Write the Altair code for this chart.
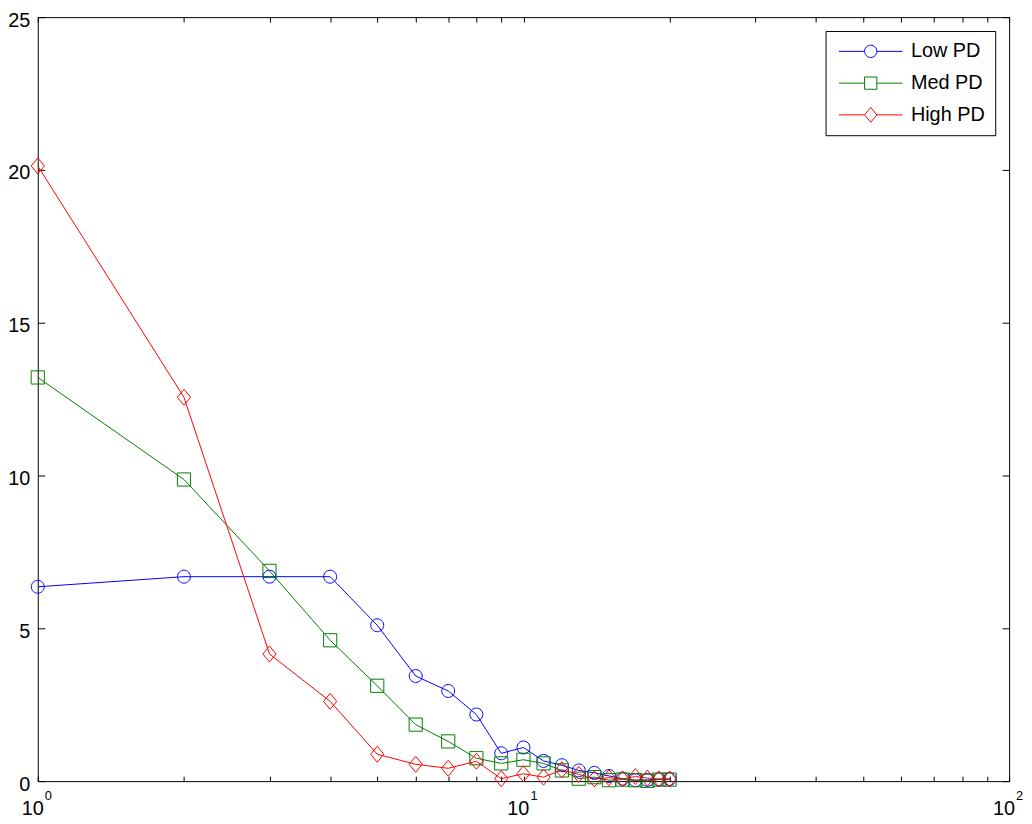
import altair as alt
import pandas as pd

# ---------------- data ----------------
x_vals = list(range(1, 21))
low_pd = [6.36, 6.69, 6.69, 6.69, 5.10, 3.44, 2.95, 2.18, 0.91, 1.10,
          0.66, 0.52, 0.35, 0.27, 0.17, 0.08, 0.03, 0.04, 0.06, 0.07]
med_pd = [13.21, 9.87, 6.88, 4.61, 3.12, 1.85, 1.30, 0.75, 0.58, 0.70,
          0.58, 0.35, 0.08, 0.13, 0.03, 0.05, 0.03, 0.01, 0.05, 0.05]
high_pd = [20.13, 12.56, 4.16, 2.61, 0.88, 0.55, 0.42, 0.65, 0.08, 0.24,
           0.13, 0.37, 0.22, 0.07, 0.11, 0.07, 0.15, 0.10, 0.07, 0.07]
series_names = ["Low PD", "Med PD", "High PD"]
series_colors = ["#0000FF", "#008000", "#FF0000"]
y_ticks = [0, 5, 10, 15, 20, 25]
x_ticks = [1, 2, 3, 4, 5, 6, 7, 8, 9, 10, 20, 30, 40, 50, 60, 70, 80, 90, 100]
x_label_vals = [1, 10, 100]
x_label_base = ["10", "10", "10"]
x_label_exp = ["0", "1", "2"]

rows = []
for name, vals in zip(series_names, [low_pd, med_pd, high_pd]):
    for xv, yv in zip(x_vals, vals):
        rows.append({"x": xv, "y": yv, "series": name})
df = pd.DataFrame(rows)
lab_df = pd.DataFrame({"x": x_label_vals, "base": x_label_base, "exp": x_label_exp})

# marker shapes (unit coords, [-1,1] spans sqrt(size))
marker_paths = [
    "M-0.93,0A0.93,0.93,0,1,1,0.93,0A0.93,0.93,0,1,1,-0.93,0Z",
    "M-0.95,-0.95H0.95V0.95H-0.95Z",
    "M0,-1.15L0.95,0L0,1.15L-0.95,0Z",
]
legend_paths = [
    "M-3.2,0H-0.62M0.62,0H3.2M-0.62,0A0.62,0.62,0,1,1,0.62,0A0.62,0.62,0,1,1,-0.62,0Z",
    "M-3.2,0H-0.62M0.62,0H3.2M-0.62,-0.62H0.62V0.62H-0.62Z",
    "M-3.2,0H-0.62M0.62,0H3.2M0,-0.75L0.62,0L0,0.75L-0.62,0Z",
]

FONT = "Liberation Sans"
xscale = alt.Scale(type="log", domain=[1, 100], nice=False)
yscale = alt.Scale(domain=[0, 25], nice=False, zero=False)
color_scale = alt.Scale(domain=series_names, range=series_colors)

x_main = alt.X("x:Q", scale=xscale, title=None,
               axis=alt.Axis(orient="bottom", values=x_ticks, labels=False,
                             tickSize=5, offset=-5, domain=False, grid=False,
                             title=None))
y_main = alt.Y("y:Q", scale=yscale, title=None,
               axis=alt.Axis(orient="left", values=y_ticks, tickSize=7,
                             offset=-7, labelPadding=8, labelOffset=3,
                             domain=False, grid=False, title=None,
                             labelFontSize=20, labelFont=FONT,
                             labelColor="black"))

lines = alt.Chart(df).mark_line(strokeWidth=1, clip=False).encode(
    x=x_main, y=y_main,
    color=alt.Color("series:N", scale=color_scale, legend=None),
    order=alt.Order("x:Q"),
)
points = alt.Chart(df).mark_point(filled=False, size=196, strokeWidth=1,
                                  opacity=1, clip=False).encode(
    x=x_main, y=y_main,
    color=alt.Color("series:N", scale=color_scale, legend=None),
    shape=alt.Shape("series:N", scale=alt.Scale(domain=series_names,
                                                range=marker_paths),
                    legend=None),
)
lab_base = alt.Chart(lab_df).mark_text(
    font=FONT, fontSize=20, align="right", baseline="alphabetic",
    dx=6, dy=34, color="black").encode(
    x=alt.X("x:Q", scale=xscale), y=alt.datum(0), text="base:N")
lab_exp = alt.Chart(lab_df).mark_text(
    font=FONT, fontSize=13, align="left", baseline="alphabetic",
    dx=7, dy=19, color="black").encode(
    x=alt.X("x:Q", scale=xscale), y=alt.datum(0), text="exp:N")

main = alt.layer(lines, points, lab_base, lab_exp)

ghost = alt.Chart(df).mark_point(opacity=0, filled=False, size=400).encode(
    x=alt.X("x:Q", scale=xscale, title=None,
            axis=alt.Axis(orient="top", values=x_ticks, labels=False,
                          tickSize=5, offset=-5, domain=False, grid=False,
                          title=None)),
    y=alt.Y("y:Q", scale=yscale, title=None,
            axis=alt.Axis(orient="right", values=y_ticks, labels=False,
                          tickSize=7, offset=-7, domain=False, grid=False,
                          title=None)),
    color=alt.Color("series:N", scale=color_scale,
                    legend=alt.Legend(title=None)),
    shape=alt.Shape("series:N", scale=alt.Scale(domain=series_names,
                                                range=legend_paths),
                    legend=alt.Legend(title=None)),
)

chart = alt.layer(main, ghost).resolve_scale(
    x="independent", y="independent", shape="independent", color="independent"
).properties(
    width=979, height=770,
    autosize=alt.AutoSizeParams(type="none"),
    padding={"left": 30, "top": 6, "right": 15, "bottom": 40},
).configure_view(
    stroke="black", strokeWidth=1
).configure_axis(
    tickColor="black", tickWidth=1, labelColor="black", labelFont=FONT,
).configure_legend(
    orient="top-right", offset=14, strokeColor="black", fillColor="white",
    padding=10, symbolSize=400, symbolOffset=25, labelOffset=30,
    labelFontSize=20, labelFont=FONT, labelColor="black", symbolOpacity=1,
    symbolStrokeWidth=1, rowPadding=11, cornerRadius=0,
)

chart.save("out.html", embed_options={"renderer": "svg", "actions": False})
